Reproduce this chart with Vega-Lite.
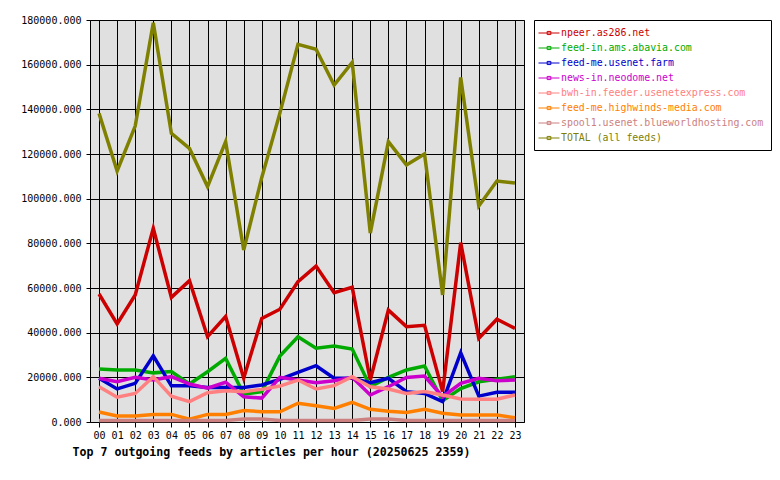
{
  "$schema": "https://vega.github.io/schema/vega-lite/v6.json",
  "autosize": "none",
  "padding": {"left": 90, "top": 20, "right": 256, "bottom": 58},
  "width": 434,
  "height": 402,
  "background": "white",
  "config": {
    "view": {"fill": "#e0e0e0", "stroke": "black", "strokeWidth": 1},
    "font": "DejaVu Sans Mono"
  },
  "data": {"values": [
    {"hour":"00","feed":"npeer.as286.net","articles":57300},{"hour":"01","feed":"npeer.as286.net","articles":43900},{"hour":"02","feed":"npeer.as286.net","articles":56900},{"hour":"03","feed":"npeer.as286.net","articles":86700},{"hour":"04","feed":"npeer.as286.net","articles":55800},{"hour":"05","feed":"npeer.as286.net","articles":63300},{"hour":"06","feed":"npeer.as286.net","articles":38200},{"hour":"07","feed":"npeer.as286.net","articles":47200},{"hour":"08","feed":"npeer.as286.net","articles":19600},{"hour":"09","feed":"npeer.as286.net","articles":46400},{"hour":"10","feed":"npeer.as286.net","articles":50500},{"hour":"11","feed":"npeer.as286.net","articles":62800},{"hour":"12","feed":"npeer.as286.net","articles":69800},{"hour":"13","feed":"npeer.as286.net","articles":57900},{"hour":"14","feed":"npeer.as286.net","articles":60300},{"hour":"15","feed":"npeer.as286.net","articles":18800},{"hour":"16","feed":"npeer.as286.net","articles":50100},{"hour":"17","feed":"npeer.as286.net","articles":42700},{"hour":"18","feed":"npeer.as286.net","articles":43300},{"hour":"19","feed":"npeer.as286.net","articles":13600},{"hour":"20","feed":"npeer.as286.net","articles":80300},{"hour":"21","feed":"npeer.as286.net","articles":37500},{"hour":"22","feed":"npeer.as286.net","articles":46000},{"hour":"23","feed":"npeer.as286.net","articles":41900},
    {"hour":"00","feed":"feed-in.ams.abavia.com","articles":23700},{"hour":"01","feed":"feed-in.ams.abavia.com","articles":23300},{"hour":"02","feed":"feed-in.ams.abavia.com","articles":23300},{"hour":"03","feed":"feed-in.ams.abavia.com","articles":22000},{"hour":"04","feed":"feed-in.ams.abavia.com","articles":22600},{"hour":"05","feed":"feed-in.ams.abavia.com","articles":17000},{"hour":"06","feed":"feed-in.ams.abavia.com","articles":22500},{"hour":"07","feed":"feed-in.ams.abavia.com","articles":28500},{"hour":"08","feed":"feed-in.ams.abavia.com","articles":12500},{"hour":"09","feed":"feed-in.ams.abavia.com","articles":13600},{"hour":"10","feed":"feed-in.ams.abavia.com","articles":29500},{"hour":"11","feed":"feed-in.ams.abavia.com","articles":38200},{"hour":"12","feed":"feed-in.ams.abavia.com","articles":33000},{"hour":"13","feed":"feed-in.ams.abavia.com","articles":34000},{"hour":"14","feed":"feed-in.ams.abavia.com","articles":32700},{"hour":"15","feed":"feed-in.ams.abavia.com","articles":15800},{"hour":"16","feed":"feed-in.ams.abavia.com","articles":20000},{"hour":"17","feed":"feed-in.ams.abavia.com","articles":23300},{"hour":"18","feed":"feed-in.ams.abavia.com","articles":25100},{"hour":"19","feed":"feed-in.ams.abavia.com","articles":9500},{"hour":"20","feed":"feed-in.ams.abavia.com","articles":15000},{"hour":"21","feed":"feed-in.ams.abavia.com","articles":18000},{"hour":"22","feed":"feed-in.ams.abavia.com","articles":19100},{"hour":"23","feed":"feed-in.ams.abavia.com","articles":20300},
    {"hour":"00","feed":"feed-me.usenet.farm","articles":19600},{"hour":"01","feed":"feed-me.usenet.farm","articles":14800},{"hour":"02","feed":"feed-me.usenet.farm","articles":17300},{"hour":"03","feed":"feed-me.usenet.farm","articles":29600},{"hour":"04","feed":"feed-me.usenet.farm","articles":16200},{"hour":"05","feed":"feed-me.usenet.farm","articles":16200},{"hour":"06","feed":"feed-me.usenet.farm","articles":15500},{"hour":"07","feed":"feed-me.usenet.farm","articles":15500},{"hour":"08","feed":"feed-me.usenet.farm","articles":15500},{"hour":"09","feed":"feed-me.usenet.farm","articles":16600},{"hour":"10","feed":"feed-me.usenet.farm","articles":19100},{"hour":"11","feed":"feed-me.usenet.farm","articles":22200},{"hour":"12","feed":"feed-me.usenet.farm","articles":25200},{"hour":"13","feed":"feed-me.usenet.farm","articles":19600},{"hour":"14","feed":"feed-me.usenet.farm","articles":19600},{"hour":"15","feed":"feed-me.usenet.farm","articles":17600},{"hour":"16","feed":"feed-me.usenet.farm","articles":19600},{"hour":"17","feed":"feed-me.usenet.farm","articles":13600},{"hour":"18","feed":"feed-me.usenet.farm","articles":12800},{"hour":"19","feed":"feed-me.usenet.farm","articles":9100},{"hour":"20","feed":"feed-me.usenet.farm","articles":31000},{"hour":"21","feed":"feed-me.usenet.farm","articles":11600},{"hour":"22","feed":"feed-me.usenet.farm","articles":13300},{"hour":"23","feed":"feed-me.usenet.farm","articles":13300},
    {"hour":"00","feed":"news-in.neodome.net","articles":19600},{"hour":"01","feed":"news-in.neodome.net","articles":18000},{"hour":"02","feed":"news-in.neodome.net","articles":20000},{"hour":"03","feed":"news-in.neodome.net","articles":18800},{"hour":"04","feed":"news-in.neodome.net","articles":20300},{"hour":"05","feed":"news-in.neodome.net","articles":17000},{"hour":"06","feed":"news-in.neodome.net","articles":15100},{"hour":"07","feed":"news-in.neodome.net","articles":17800},{"hour":"08","feed":"news-in.neodome.net","articles":11300},{"hour":"09","feed":"news-in.neodome.net","articles":10700},{"hour":"10","feed":"news-in.neodome.net","articles":20000},{"hour":"11","feed":"news-in.neodome.net","articles":18800},{"hour":"12","feed":"news-in.neodome.net","articles":17600},{"hour":"13","feed":"news-in.neodome.net","articles":18500},{"hour":"14","feed":"news-in.neodome.net","articles":20000},{"hour":"15","feed":"news-in.neodome.net","articles":12100},{"hour":"16","feed":"news-in.neodome.net","articles":15800},{"hour":"17","feed":"news-in.neodome.net","articles":19900},{"hour":"18","feed":"news-in.neodome.net","articles":20600},{"hour":"19","feed":"news-in.neodome.net","articles":11300},{"hour":"20","feed":"news-in.neodome.net","articles":17300},{"hour":"21","feed":"news-in.neodome.net","articles":19600},{"hour":"22","feed":"news-in.neodome.net","articles":18500},{"hour":"23","feed":"news-in.neodome.net","articles":18800},
    {"hour":"00","feed":"bwh-in.feeder.usenetexpress.com","articles":15800},{"hour":"01","feed":"bwh-in.feeder.usenetexpress.com","articles":11100},{"hour":"02","feed":"bwh-in.feeder.usenetexpress.com","articles":12800},{"hour":"03","feed":"bwh-in.feeder.usenetexpress.com","articles":20300},{"hour":"04","feed":"bwh-in.feeder.usenetexpress.com","articles":11600},{"hour":"05","feed":"bwh-in.feeder.usenetexpress.com","articles":9100},{"hour":"06","feed":"bwh-in.feeder.usenetexpress.com","articles":13100},{"hour":"07","feed":"bwh-in.feeder.usenetexpress.com","articles":14000},{"hour":"08","feed":"bwh-in.feeder.usenetexpress.com","articles":13600},{"hour":"09","feed":"bwh-in.feeder.usenetexpress.com","articles":14600},{"hour":"10","feed":"bwh-in.feeder.usenetexpress.com","articles":16100},{"hour":"11","feed":"bwh-in.feeder.usenetexpress.com","articles":18800},{"hour":"12","feed":"bwh-in.feeder.usenetexpress.com","articles":14800},{"hour":"13","feed":"bwh-in.feeder.usenetexpress.com","articles":16300},{"hour":"14","feed":"bwh-in.feeder.usenetexpress.com","articles":20300},{"hour":"15","feed":"bwh-in.feeder.usenetexpress.com","articles":15800},{"hour":"16","feed":"bwh-in.feeder.usenetexpress.com","articles":14800},{"hour":"17","feed":"bwh-in.feeder.usenetexpress.com","articles":12800},{"hour":"18","feed":"bwh-in.feeder.usenetexpress.com","articles":13600},{"hour":"19","feed":"bwh-in.feeder.usenetexpress.com","articles":12100},{"hour":"20","feed":"bwh-in.feeder.usenetexpress.com","articles":10300},{"hour":"21","feed":"bwh-in.feeder.usenetexpress.com","articles":10200},{"hour":"22","feed":"bwh-in.feeder.usenetexpress.com","articles":10200},{"hour":"23","feed":"bwh-in.feeder.usenetexpress.com","articles":12100},
    {"hour":"00","feed":"feed-me.highwinds-media.com","articles":4500},{"hour":"01","feed":"feed-me.highwinds-media.com","articles":2700},{"hour":"02","feed":"feed-me.highwinds-media.com","articles":2700},{"hour":"03","feed":"feed-me.highwinds-media.com","articles":3400},{"hour":"04","feed":"feed-me.highwinds-media.com","articles":3400},{"hour":"05","feed":"feed-me.highwinds-media.com","articles":1300},{"hour":"06","feed":"feed-me.highwinds-media.com","articles":3400},{"hour":"07","feed":"feed-me.highwinds-media.com","articles":3400},{"hour":"08","feed":"feed-me.highwinds-media.com","articles":5100},{"hour":"09","feed":"feed-me.highwinds-media.com","articles":4600},{"hour":"10","feed":"feed-me.highwinds-media.com","articles":4600},{"hour":"11","feed":"feed-me.highwinds-media.com","articles":8400},{"hour":"12","feed":"feed-me.highwinds-media.com","articles":7300},{"hour":"13","feed":"feed-me.highwinds-media.com","articles":6100},{"hour":"14","feed":"feed-me.highwinds-media.com","articles":8800},{"hour":"15","feed":"feed-me.highwinds-media.com","articles":5700},{"hour":"16","feed":"feed-me.highwinds-media.com","articles":4800},{"hour":"17","feed":"feed-me.highwinds-media.com","articles":4300},{"hour":"18","feed":"feed-me.highwinds-media.com","articles":5700},{"hour":"19","feed":"feed-me.highwinds-media.com","articles":3900},{"hour":"20","feed":"feed-me.highwinds-media.com","articles":3100},{"hour":"21","feed":"feed-me.highwinds-media.com","articles":3100},{"hour":"22","feed":"feed-me.highwinds-media.com","articles":3100},{"hour":"23","feed":"feed-me.highwinds-media.com","articles":1900},
    {"hour":"00","feed":"spool1.usenet.blueworldhosting.com","articles":700},{"hour":"01","feed":"spool1.usenet.blueworldhosting.com","articles":700},{"hour":"02","feed":"spool1.usenet.blueworldhosting.com","articles":700},{"hour":"03","feed":"spool1.usenet.blueworldhosting.com","articles":700},{"hour":"04","feed":"spool1.usenet.blueworldhosting.com","articles":700},{"hour":"05","feed":"spool1.usenet.blueworldhosting.com","articles":700},{"hour":"06","feed":"spool1.usenet.blueworldhosting.com","articles":700},{"hour":"07","feed":"spool1.usenet.blueworldhosting.com","articles":700},{"hour":"08","feed":"spool1.usenet.blueworldhosting.com","articles":1300},{"hour":"09","feed":"spool1.usenet.blueworldhosting.com","articles":1300},{"hour":"10","feed":"spool1.usenet.blueworldhosting.com","articles":700},{"hour":"11","feed":"spool1.usenet.blueworldhosting.com","articles":700},{"hour":"12","feed":"spool1.usenet.blueworldhosting.com","articles":700},{"hour":"13","feed":"spool1.usenet.blueworldhosting.com","articles":700},{"hour":"14","feed":"spool1.usenet.blueworldhosting.com","articles":700},{"hour":"15","feed":"spool1.usenet.blueworldhosting.com","articles":1300},{"hour":"16","feed":"spool1.usenet.blueworldhosting.com","articles":1300},{"hour":"17","feed":"spool1.usenet.blueworldhosting.com","articles":700},{"hour":"18","feed":"spool1.usenet.blueworldhosting.com","articles":700},{"hour":"19","feed":"spool1.usenet.blueworldhosting.com","articles":700},{"hour":"20","feed":"spool1.usenet.blueworldhosting.com","articles":700},{"hour":"21","feed":"spool1.usenet.blueworldhosting.com","articles":700},{"hour":"22","feed":"spool1.usenet.blueworldhosting.com","articles":700},{"hour":"23","feed":"spool1.usenet.blueworldhosting.com","articles":700},
    {"hour":"00","feed":"TOTAL (all feeds)","articles":138200},{"hour":"01","feed":"TOTAL (all feeds)","articles":112400},{"hour":"02","feed":"TOTAL (all feeds)","articles":132500},{"hour":"03","feed":"TOTAL (all feeds)","articles":178800},{"hour":"04","feed":"TOTAL (all feeds)","articles":129300},{"hour":"05","feed":"TOTAL (all feeds)","articles":122500},{"hour":"06","feed":"TOTAL (all feeds)","articles":105400},{"hour":"07","feed":"TOTAL (all feeds)","articles":125500},{"hour":"08","feed":"TOTAL (all feeds)","articles":77000},{"hour":"09","feed":"TOTAL (all feeds)","articles":109500},{"hour":"10","feed":"TOTAL (all feeds)","articles":138300},{"hour":"11","feed":"TOTAL (all feeds)","articles":169100},{"hour":"12","feed":"TOTAL (all feeds)","articles":166900},{"hour":"13","feed":"TOTAL (all feeds)","articles":150900},{"hour":"14","feed":"TOTAL (all feeds)","articles":161000},{"hour":"15","feed":"TOTAL (all feeds)","articles":84600},{"hour":"16","feed":"TOTAL (all feeds)","articles":125500},{"hour":"17","feed":"TOTAL (all feeds)","articles":115100},{"hour":"18","feed":"TOTAL (all feeds)","articles":120000},{"hour":"19","feed":"TOTAL (all feeds)","articles":56900},{"hour":"20","feed":"TOTAL (all feeds)","articles":154300},{"hour":"21","feed":"TOTAL (all feeds)","articles":96700},{"hour":"22","feed":"TOTAL (all feeds)","articles":107900},{"hour":"23","feed":"TOTAL (all feeds)","articles":107000}
  ]},
  "mark": {"type": "line", "strokeWidth": 3.5, "strokeJoin": "miter", "strokeCap": "butt"},
  "encoding": {
    "x": {
      "field": "hour", "type": "ordinal",
      "scale": {"type": "point", "padding": 0.5},
      "axis": {
        "labelAngle": 0, "labelFont": "DejaVu Sans Mono", "labelFontSize": 10, "labelColor": "black",
        "tickColor": "black", "tickSize": 5, "labelPadding": 3, "domain": false,
        "grid": true, "gridColor": "black", "gridOpacity": 1, "gridWidth": 1,
        "title": "Top 7 outgoing feeds by articles per hour (20250625 2359)",
        "titleFont": "DejaVu Sans Mono", "titleFontSize": 11.6, "titleFontWeight": "bold",
        "titleColor": "black", "titleX": 181, "titleY": 30, "titleBaseline": "middle", "titleAlign": "center"
      }
    },
    "y": {
      "field": "articles", "type": "quantitative",
      "scale": {"domain": [0, 180000], "nice": false},
      "axis": {
        "values": [0,20000,40000,60000,80000,100000,120000,140000,160000,180000],
        "format": ".3f", "labelFont": "DejaVu Sans Mono", "labelFontSize": 10, "labelColor": "black",
        "tickColor": "black", "tickSize": 4, "labelPadding": 5, "domain": false,
        "grid": true, "gridColor": "black", "gridOpacity": 1, "gridWidth": 1, "title": null
      }
    },
    "color": {
      "field": "feed", "type": "nominal",
      "scale": {
        "domain": ["npeer.as286.net","feed-in.ams.abavia.com","feed-me.usenet.farm","news-in.neodome.net","bwh-in.feeder.usenetexpress.com","feed-me.highwinds-media.com","spool1.usenet.blueworldhosting.com","TOTAL (all feeds)"],
        "range": ["#cc0000","#00aa00","#0000cc","#cc00cc","#ff8080","#ff8000","#cc8080","#808000"]
      },
      "legend": {
        "orient": "none", "legendX": 444, "legendY": 0, "title": null,
        "strokeColor": "black", "fillColor": "white", "padding": 7,
        "labelFont": "DejaVu Sans Mono", "labelFontSize": 9.9, "labelLimit": 400,
        "symbolType": "M-2,0H2M-0.35,-0.3H0.35V0.3H-0.35Z", "symbolSize": 110, "symbolStrokeWidth": 1,
        "symbolOffset": 2, "labelOffset": 6, "rowPadding": 4,
        "encode": {"labels": {"update": {"fill": {"scale": "color", "field": "value"}}}}
      }
    }
  }
}
